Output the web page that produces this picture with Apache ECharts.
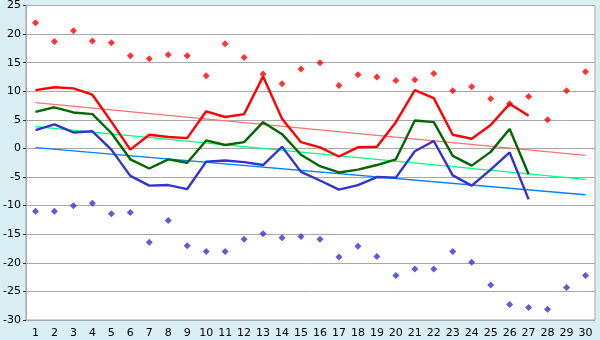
<!DOCTYPE html>
<html>
<head>
<meta charset="utf-8">
<script src="https://cdn.jsdelivr.net/npm/echarts@6/dist/echarts.min.js"></script>
<style>
  html, body { margin: 0; padding: 0; background: #d9eef5; }
  #chart { width: 600px; height: 340px; }
</style>
</head>
<body>
<div id="chart"></div>
<script>
// Day numbers along the x axis
const days = Array.from({ length: 30 }, (_, i) => String(i + 1));

// Daily extremes (scatter markers)
const highPoints = [22.0, 18.7, 20.6, 18.8, 18.5, 16.2, 15.7, 16.4, 16.2, 12.7,
                    18.3, 15.9, 13.0, 11.3, 13.9, 15.0, 11.0, 12.9, 12.5, 11.9,
                    12.0, 13.1, 10.1, 10.8, 8.7, 7.8, 9.1, 5.0, 10.1, 13.4];
const lowPoints = [-11.0, -11.0, -10.0, -9.6, -11.4, -11.2, -16.4, -12.6, -17.0, -18.0,
                   -18.0, -15.9, -14.9, -15.6, -15.4, -15.9, -19.0, -17.1, -18.9, -22.2,
                   -21.1, -21.1, -18.0, -19.9, -23.9, -27.3, -27.8, -28.1, -24.3, -22.2];

// Daily curves (days 1-27)
const upperLine = [10.2, 10.7, 10.5, 9.4, 4.7, -0.2, 2.4, 2.0, 1.8, 6.5,
                   5.5, 6.0, 12.6, 5.2, 1.1, 0.2, -1.4, 0.2, 0.3, 4.6,
                   10.2, 8.8, 2.4, 1.7, 4.1, 7.8, 5.7];
const middleLine = [6.4, 7.2, 6.3, 6.0, 2.7, -1.9, -3.5, -1.9, -2.5, 1.4,
                    0.6, 1.1, 4.6, 2.5, -1.1, -3.1, -4.2, -3.7, -2.9, -1.9,
                    4.9, 4.6, -1.3, -3.0, -0.6, 3.4, -4.5];
const lowerLine = [3.2, 4.2, 2.8, 3.0, -0.2, -4.8, -6.5, -6.4, -7.1, -2.3,
                   -2.1, -2.4, -2.9, 0.3, -4.1, -5.6, -7.2, -6.4, -5.0, -5.1,
                   -0.5, 1.3, -4.7, -6.5, -3.7, -0.7, -8.9];

// Trend lines: value on day 1 and on day 30
const upperTrend = [8.0, -1.2];
const middleTrend = [3.8, -5.4];
const lowerTrend = [0.15, -8.1];

// Y axis range
const yMin = -30, yMax = 25, yStep = 5;

const trend = (ends, color) => ({
  type: 'line',
  data: [[days[0], ends[0]], [days[days.length - 1], ends[1]]],
  symbol: 'none',
  lineStyle: { color: color, width: 1.3 },
  silent: true,
  z: 1
});

const curve = (values, color) => ({
  type: 'line',
  data: values,
  symbol: 'none',
  lineStyle: { color: color, width: 2.4 },
  z: 2
});

const dots = (values, color) => ({
  type: 'scatter',
  data: values,
  symbol: 'diamond',
  symbolSize: [7, 7],
  itemStyle: { color: color },
  z: 3
});

const chart = echarts.init(document.getElementById('chart'));
chart.setOption({
  animation: false,
  backgroundColor: '#d9eef5',
  grid: {
    left: 26, right: 5, top: 5, bottom: 20,
    show: true,
    backgroundColor: '#ffffff',
    borderColor: '#a8a8a8',
    borderWidth: 1
  },
  xAxis: {
    type: 'category',
    data: days,
    boundaryGap: true,
    axisLine: { lineStyle: { color: '#a8a8a8' } },
    axisTick: { alignWithLabel: true, length: 5, lineStyle: { color: '#333' } },
    axisLabel: { color: '#000', fontFamily: 'DejaVu Sans', fontSize: 11, margin: 8, interval: 0 },
    splitLine: { show: false }
  },
  yAxis: {
    type: 'value',
    min: yMin, max: yMax, interval: yStep,
    axisLine: { show: true, lineStyle: { color: '#a8a8a8' } },
    axisTick: { show: true, length: 3, lineStyle: { color: '#333' } },
    axisLabel: { color: '#000', fontFamily: 'DejaVu Sans', fontSize: 11, margin: 5 },
    splitLine: { lineStyle: { color: '#a8a8a8', width: 1 } }
  },
  series: [
    trend(upperTrend, '#ff7070'),
    trend(middleTrend, '#00ff80'),
    trend(lowerTrend, '#0080ff'),
    curve(upperLine, '#ff0000'),
    curve(middleLine, '#006600'),
    curve(lowerLine, '#3333cc'),
    dots(highPoints, '#ff0000'),
    dots(lowPoints, '#3333cc')
  ]
});
</script>
</body>
</html>
